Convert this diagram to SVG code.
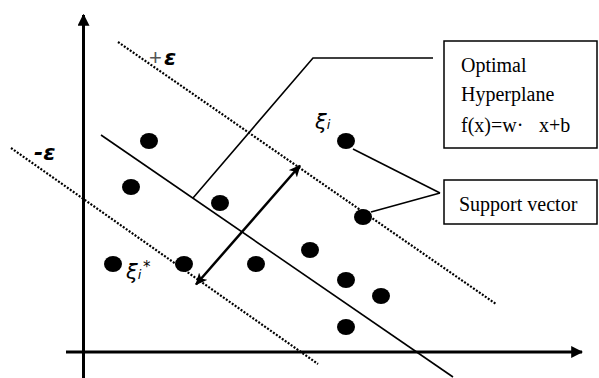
<svg xmlns="http://www.w3.org/2000/svg" width="599" height="378" viewBox="0 0 599 378">
<style>
.ax{stroke:#000;stroke-width:3;fill:none}
.ln{stroke:#000;stroke-width:1.6;fill:none}
.dot{stroke:#000;stroke-width:2.2;stroke-dasharray:2 1.6;fill:none}
.pt{fill:#000}
.box{fill:#fff;stroke:#000;stroke-width:1.5}
.tx{font-family:"Liberation Serif",serif;font-size:20px;fill:#000}
.eps{font-family:"DejaVu Sans",sans-serif;font-size:22px;font-weight:bold;font-style:italic;fill:#000}
.xi{font-family:"DejaVu Sans",sans-serif;font-style:italic;fill:#000}
</style>
<defs>
<marker id="ah" markerWidth="4" markerHeight="4" refX="3.6" refY="2" orient="auto" markerUnits="strokeWidth">
<path d="M0,0 L4,2 L0,4 Z" fill="#000"/>
</marker>
<marker id="ah2" markerWidth="12" markerHeight="12" refX="11" refY="6" orient="auto-start-reverse" markerUnits="userSpaceOnUse">
<path d="M0,0.5 L12,6 L0,11.5 L3,6 Z" fill="#000"/>
</marker>
</defs>
<g id="axes">
<line class="ax" x1="83.5" y1="378" x2="83.5" y2="15" marker-end="url(#ah)"/>
<line class="ax" x1="66" y1="352" x2="582" y2="352" marker-end="url(#ah)"/>
</g>
<g id="connectors">
<line class="dot" x1="118" y1="42" x2="496" y2="304"/>
<line class="dot" x1="11" y1="148" x2="318" y2="364"/>
<line class="ln" x1="101" y1="135" x2="453" y2="377"/>
<polyline class="ln" points="193,198 313,58 433,58"/>
<line class="ln" x1="353" y1="149" x2="440" y2="193"/>
<line class="ln" x1="371" y1="212" x2="440" y2="193"/>
<line x1="196" y1="284.5" x2="300" y2="165.5" stroke="#000" stroke-width="2.5" marker-start="url(#ah2)" marker-end="url(#ah2)"/>
</g>
<g id="points">
<ellipse class="pt" cx="149" cy="141" rx="9" ry="8"/>
<ellipse class="pt" cx="131" cy="187" rx="9" ry="8"/>
<ellipse class="pt" cx="220" cy="203" rx="9" ry="8"/>
<ellipse class="pt" cx="346" cy="141" rx="9" ry="8"/>
<ellipse class="pt" cx="363" cy="217" rx="9" ry="8"/>
<ellipse class="pt" cx="113" cy="264" rx="9" ry="8"/>
<ellipse class="pt" cx="184" cy="264" rx="9" ry="8"/>
<ellipse class="pt" cx="256" cy="264" rx="9" ry="8"/>
<ellipse class="pt" cx="310" cy="250" rx="9" ry="8"/>
<ellipse class="pt" cx="346" cy="280" rx="9" ry="8"/>
<ellipse class="pt" cx="381" cy="296" rx="9" ry="8"/>
<ellipse class="pt" cx="346" cy="327" rx="9" ry="8"/>
</g>
<g id="labels">
<text x="149" y="65" font-family="'Liberation Sans',sans-serif" font-size="22" fill="#555">+</text>
<text class="eps" x="164" y="65">ε</text>
<text class="eps" x="34" y="160">-ε</text>
<text class="xi" x="315" y="129" font-size="21">ξ<tspan font-size="13">i</tspan></text>
<text class="xi" x="126" y="279" font-size="21">ξ<tspan font-size="13">i</tspan></text>
<text class="xi" x="143" y="272" font-size="15">*</text>
</g>
<g id="hyperplane-box">
<rect class="box" x="444" y="41" width="153" height="107"/>
<text class="tx" x="461" y="72">Optimal</text>
<text class="tx" x="461" y="101">Hyperplane</text>
<text class="tx" x="461" y="132">f(x)=w·<tspan x="539">x+b</tspan></text>
</g>
<g id="support-box">
<rect class="box" x="444" y="180" width="153" height="44"/>
<text class="tx" x="459" y="211">Support vector</text>
</g>
</svg>
